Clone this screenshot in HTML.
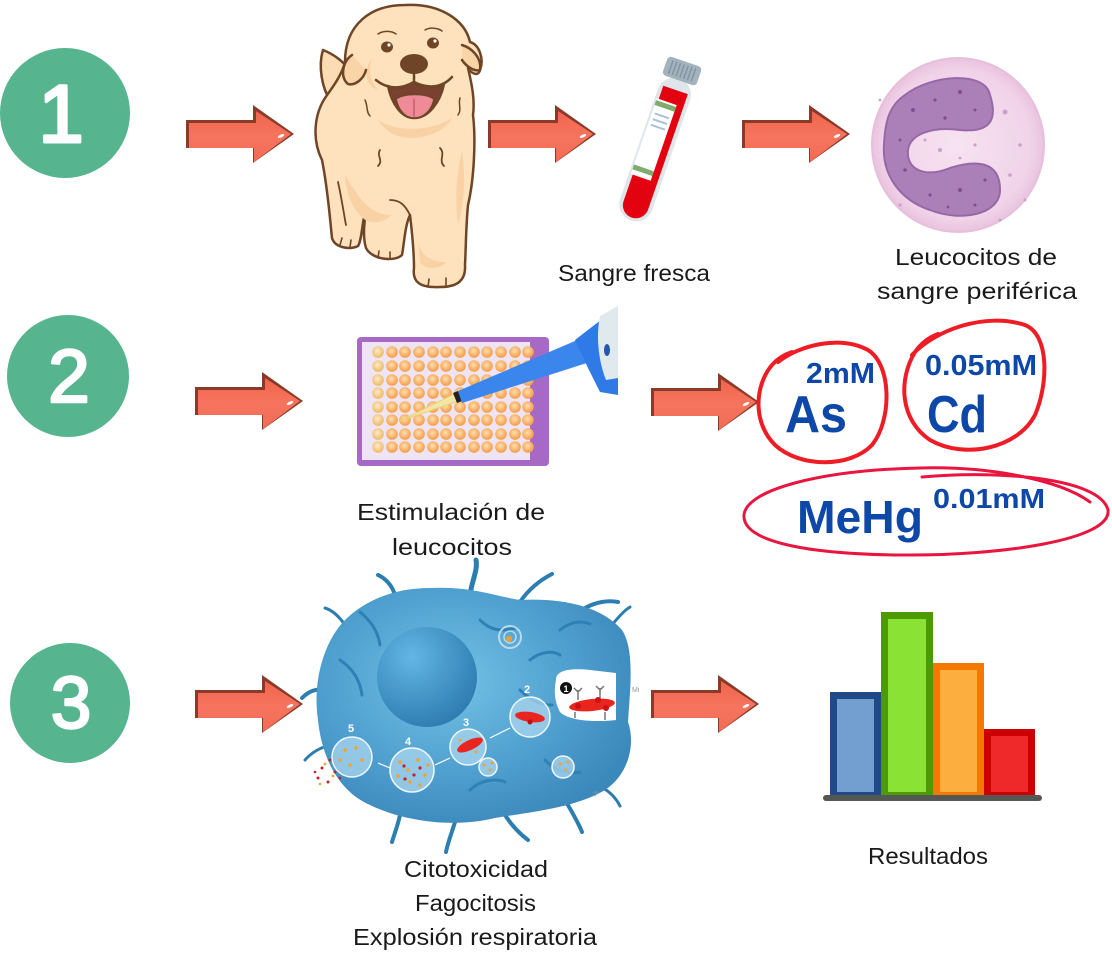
<!DOCTYPE html>
<html><head><meta charset="utf-8"><style>
html,body{margin:0;padding:0;background:#fff;}
svg{display:block;}
</style></head><body>
<svg width="1112" height="958" viewBox="0 0 1112 958" xmlns="http://www.w3.org/2000/svg">
<defs>
  <linearGradient id="arrG" x1="0" y1="0" x2="0" y2="1">
    <stop offset="0" stop-color="#f0644c"/>
    <stop offset="0.5" stop-color="#f6745e"/>
    <stop offset="1" stop-color="#f26b54"/>
  </linearGradient>
  <g id="arrow">
    <path d="M0,15 H67 V0 L108,29 L67,58 V43 H0 Z" fill="#8a3a28"/>
    <path d="M3,18 H70 V6 L105,29 L68,57 V43 H3 Z" fill="url(#arrG)"/>
    <ellipse cx="95" cy="31" rx="3.5" ry="1.4" fill="#fff" transform="rotate(-25 95 31)"/>
  </g>
  <radialGradient id="cellG" cx="0.42" cy="0.4" r="0.65">
    <stop offset="0" stop-color="#74c2e6"/>
    <stop offset="0.6" stop-color="#4f9fcf"/>
    <stop offset="1" stop-color="#3b88bb"/>
  </radialGradient>
  <radialGradient id="nucG" cx="0.35" cy="0.3" r="0.75">
    <stop offset="0" stop-color="#62b6e4"/>
    <stop offset="1" stop-color="#2e7bb0"/>
  </radialGradient>
  <radialGradient id="wellG" cx="0.45" cy="0.4" r="0.6">
    <stop offset="0" stop-color="#fde0b0"/>
    <stop offset="1" stop-color="#f59a45"/>
  </radialGradient>
  <radialGradient id="wellY" cx="0.45" cy="0.4" r="0.6">
    <stop offset="0" stop-color="#fdeacc"/>
    <stop offset="1" stop-color="#eeb860"/>
  </radialGradient>
  <radialGradient id="leukG" cx="0.5" cy="0.5" r="0.5">
    <stop offset="0" stop-color="#f6e3f1"/>
    <stop offset="0.85" stop-color="#f1d3e9"/>
    <stop offset="1" stop-color="#e9c3df"/>
  </radialGradient>
</defs>

<!-- Green numbered circles -->
<circle cx="65" cy="113" r="65" fill="#56b58e"/>
<text x="61" y="142" font-family="Liberation Sans, sans-serif" font-size="82" fill="#fff" stroke="#fff" stroke-width="3" stroke-linejoin="round" text-anchor="middle">1</text>
<circle cx="68" cy="376" r="61" fill="#56b58e"/>
<text x="69" y="402" font-family="Liberation Sans, sans-serif" font-size="75" fill="#fff" stroke="#fff" stroke-width="2.5" stroke-linejoin="round" text-anchor="middle">2</text>
<circle cx="70" cy="703" r="60" fill="#56b58e"/>
<text x="71" y="728" font-family="Liberation Sans, sans-serif" font-size="73" fill="#fff" stroke="#fff" stroke-width="2.5" stroke-linejoin="round" text-anchor="middle">3</text>

<!-- Arrows -->
<use href="#arrow" x="186" y="105"/>
<use href="#arrow" x="488" y="105"/>
<use href="#arrow" x="742" y="105"/>
<use href="#arrow" x="195" y="372"/>
<use href="#arrow" x="651" y="373"/>
<use href="#arrow" x="195" y="675"/>
<use href="#arrow" x="651" y="675"/>

<!-- Dog -->
<g stroke="#6e4527" stroke-width="2.5" stroke-linejoin="round" stroke-linecap="round">
  <path d="M330,100 C322,88 318,66 323,50 C333,54 346,62 352,75 C350,88 342,98 330,100 Z" fill="#fbdcb3"/>
  <path d="M345,62 C345,25 370,5 405,5 C440,3 465,20 470,42 C480,45 484,60 480,70 C478,78 470,72 468,68 C472,85 475,100 473,115 C476,140 474,180 468,205 C466,225 466,245 465,265 C466,280 458,287 440,287 C420,288 412,282 414,268 C414,250 412,232 410,215 C405,225 404,245 402,255 C395,262 372,260 366,248 C362,235 365,220 366,208 C362,222 362,240 358,246 C350,250 335,248 332,238 C330,220 328,190 322,160 C312,140 314,115 325,98 C332,88 342,75 345,62 Z" fill="#fde2bd"/>
</g>
<g fill="#f8d2a4">
  <path d="M378,120 C395,132 430,132 452,118 C448,128 430,138 412,138 C395,138 384,130 378,120 Z"/>
  <path d="M345,175 C360,200 370,215 392,215 C380,225 368,225 360,215 C350,205 346,190 345,175 Z"/>
  <path d="M462,150 C466,180 464,205 458,225 C455,200 456,175 462,150 Z"/>
  <path d="M418,240 C420,255 430,262 446,262 C440,270 425,270 420,262 Z"/>
  <path d="M372,58 C368,70 370,82 378,90 C366,86 362,72 372,58 Z"/>
</g>
<g stroke="#6e4527" stroke-width="2.5" stroke-linejoin="round" stroke-linecap="round">
  <path d="M352,55 C342,62 340,78 348,84 C356,86 364,78 366,70" fill="#f9d4a6"/>
  <path d="M462,45 C472,48 482,58 480,70 C474,72 466,66 462,60" fill="#f9d4a6"/>
  <path d="M380,150 C376,156 384,160 378,166" fill="none" stroke-width="1.8"/>
  <path d="M440,148 C446,154 438,160 444,166" fill="none" stroke-width="1.8"/>
  <path d="M338,182 C342,200 344,215 346,225" fill="none" stroke-width="1.8"/>
  <path d="M410,215 C405,205 400,200 390,200" fill="none" stroke-width="1.8"/>
  <path d="M340,245 L342,238 M350,247 L351,240" fill="none" stroke-width="1.6"/>
  <path d="M428,287 L429,279 M446,286 L446,278" fill="none" stroke-width="1.6"/>
  <path d="M378,258 L379,251 M390,259 L390,252" fill="none" stroke-width="1.6"/>
  <path d="M388,86 C392,105 402,118 414,118 C428,118 440,103 444,84 C432,90 420,88 414,82 C405,88 395,90 388,86 Z" fill="#7a4030"/>
  <path d="M396,99 C399,112 406,118 414,118 C424,118 432,110 434,99 C426,93 404,93 396,99 Z" fill="#ef8a97" stroke-width="1.5"/>
  <path d="M414,99 L414,116" fill="none" stroke="#c0606e" stroke-width="1.5"/>
  <path d="M376,80 C388,90 402,89 414,82 C428,89 442,88 452,77" fill="none"/>
  <path d="M414,72 L414,82" fill="none"/>
  <path d="M378,34 C384,30 392,31 396,34" fill="none" stroke-width="1.5"/>
  <path d="M425,30 C430,27 438,28 442,31" fill="none" stroke-width="1.5"/>
  <path d="M365,100 C368,106 366,112 370,116" fill="none" stroke-width="1.5"/>
  <path d="M460,98 C458,104 462,110 458,115" fill="none" stroke-width="1.5"/>
</g>
<ellipse cx="387" cy="47" rx="6" ry="5.5" fill="#6e4527"/>
<ellipse cx="433" cy="43" rx="6" ry="5.5" fill="#6e4527"/>
<circle cx="389" cy="45" r="1.6" fill="#fff"/>
<circle cx="435" cy="41" r="1.6" fill="#fff"/>
<ellipse cx="414" cy="64" rx="14" ry="10" fill="#6e4527"/>

<!-- Blood tube -->
<g transform="translate(658,141) rotate(19)">
  <rect x="-17" y="-66" width="34" height="150" rx="17" fill="#dfe6ea"/>
  <path d="M-13,-54 H13 V68 A13,13 0 0 1 -13,68 Z" fill="#e3020f"/>
  <rect x="-15" y="-40" width="21" height="80" fill="#fff"/>
  <rect x="-15" y="-38" width="21" height="5" fill="#7fab6d"/>
  <rect x="-15" y="30" width="21" height="5" fill="#7fab6d"/>
  <g stroke="#a8c4d8" stroke-width="2">
    <line x1="-12" y1="-25" x2="3" y2="-25"/>
    <line x1="-12" y1="-19" x2="3" y2="-19"/>
    <line x1="-12" y1="-13" x2="3" y2="-13"/>
  </g>
  <rect x="-18" y="-84" width="36" height="20" rx="4" fill="#a3b3be"/>
  <g stroke="#8494a1" stroke-width="1.5">
    <line x1="-12" y1="-81" x2="-12" y2="-67"/><line x1="-8" y1="-81" x2="-8" y2="-67"/>
    <line x1="-4" y1="-81" x2="-4" y2="-67"/><line x1="0" y1="-81" x2="0" y2="-67"/>
    <line x1="4" y1="-81" x2="4" y2="-67"/><line x1="8" y1="-81" x2="8" y2="-67"/>
    <line x1="12" y1="-81" x2="12" y2="-67"/>
  </g>
</g>

<!-- Leukocyte -->
<ellipse cx="958" cy="145" rx="86" ry="87" fill="url(#leukG)" stroke="#e6bfdb" stroke-width="2"/>
<path d="M905,95 C930,75 985,70 990,95 C998,120 990,133 960,130 C930,126 910,135 908,150 C906,170 925,178 950,168 C975,160 1000,160 1000,190 C1000,215 960,222 930,210 C900,200 882,175 884,145 C885,120 890,105 905,95 Z" fill="#ab80b9" stroke="#9768a6" stroke-width="2"/>
<g fill="#7d4f8e">
  <circle cx="913" cy="110" r="2"/><circle cx="935" cy="100" r="1.6"/><circle cx="960" cy="92" r="2"/>
  <circle cx="975" cy="110" r="1.5"/><circle cx="945" cy="118" r="1.7"/><circle cx="900" cy="140" r="1.5"/>
  <circle cx="905" cy="170" r="1.8"/><circle cx="930" cy="195" r="1.6"/><circle cx="960" cy="190" r="2"/>
  <circle cx="985" cy="180" r="1.6"/><circle cx="975" cy="205" r="1.5"/><circle cx="948" cy="207" r="1.4"/>
</g>
<g fill="#c9a0cf">
  <circle cx="1005" cy="112" r="2.5"/><circle cx="1020" cy="145" r="1.8"/><circle cx="940" cy="150" r="2"/>
  <circle cx="975" cy="145" r="1.6"/><circle cx="925" cy="140" r="1.5"/><circle cx="1010" cy="175" r="1.8"/>
  <circle cx="900" cy="205" r="1.6"/><circle cx="1000" cy="220" r="1.5"/><circle cx="960" cy="158" r="1.4"/>
  <circle cx="1025" cy="200" r="1.5"/><circle cx="880" cy="100" r="1.4"/>
</g>

<!-- Well plate -->
<rect x="357" y="337" width="192" height="129" rx="4" fill="#a669c6"/>
<rect x="362" y="342" width="168" height="118" fill="#efe4f3"/>
<g fill="url(#wellY)">
  <circle cx="378" cy="352" r="5.8"/><circle cx="378" cy="366" r="5.8"/><circle cx="378" cy="380" r="5.8"/><circle cx="378" cy="393" r="5.8"/>
  <circle cx="378" cy="407" r="5.8"/><circle cx="378" cy="420" r="5.8"/><circle cx="378" cy="434" r="5.8"/><circle cx="378" cy="447" r="5.8"/>
</g>
<g fill="url(#wellG)">
  <circle cx="392" cy="352" r="5.8"/><circle cx="405" cy="352" r="5.8"/><circle cx="419" cy="352" r="5.8"/><circle cx="433" cy="352" r="5.8"/><circle cx="446" cy="352" r="5.8"/><circle cx="460" cy="352" r="5.8"/><circle cx="474" cy="352" r="5.8"/><circle cx="487" cy="352" r="5.8"/><circle cx="501" cy="352" r="5.8"/><circle cx="515" cy="352" r="5.8"/><circle cx="528" cy="352" r="5.8"/>
  <circle cx="392" cy="366" r="5.8"/><circle cx="405" cy="366" r="5.8"/><circle cx="419" cy="366" r="5.8"/><circle cx="433" cy="366" r="5.8"/><circle cx="446" cy="366" r="5.8"/><circle cx="460" cy="366" r="5.8"/><circle cx="474" cy="366" r="5.8"/><circle cx="487" cy="366" r="5.8"/><circle cx="501" cy="366" r="5.8"/><circle cx="515" cy="366" r="5.8"/><circle cx="528" cy="366" r="5.8"/>
  <circle cx="392" cy="380" r="5.8"/><circle cx="405" cy="380" r="5.8"/><circle cx="419" cy="380" r="5.8"/><circle cx="433" cy="380" r="5.8"/><circle cx="446" cy="380" r="5.8"/><circle cx="460" cy="380" r="5.8"/><circle cx="474" cy="380" r="5.8"/><circle cx="487" cy="380" r="5.8"/><circle cx="501" cy="380" r="5.8"/><circle cx="515" cy="380" r="5.8"/><circle cx="528" cy="380" r="5.8"/>
  <circle cx="392" cy="393" r="5.8"/><circle cx="405" cy="393" r="5.8"/><circle cx="419" cy="393" r="5.8"/><circle cx="433" cy="393" r="5.8"/><circle cx="446" cy="393" r="5.8"/><circle cx="460" cy="393" r="5.8"/><circle cx="474" cy="393" r="5.8"/><circle cx="487" cy="393" r="5.8"/><circle cx="501" cy="393" r="5.8"/><circle cx="515" cy="393" r="5.8"/><circle cx="528" cy="393" r="5.8"/>
  <circle cx="392" cy="407" r="5.8"/><circle cx="405" cy="407" r="5.8"/><circle cx="419" cy="407" r="5.8"/><circle cx="433" cy="407" r="5.8"/><circle cx="446" cy="407" r="5.8"/><circle cx="460" cy="407" r="5.8"/><circle cx="474" cy="407" r="5.8"/><circle cx="487" cy="407" r="5.8"/><circle cx="501" cy="407" r="5.8"/><circle cx="515" cy="407" r="5.8"/><circle cx="528" cy="407" r="5.8"/>
  <circle cx="392" cy="420" r="5.8"/><circle cx="405" cy="420" r="5.8"/><circle cx="419" cy="420" r="5.8"/><circle cx="433" cy="420" r="5.8"/><circle cx="446" cy="420" r="5.8"/><circle cx="460" cy="420" r="5.8"/><circle cx="474" cy="420" r="5.8"/><circle cx="487" cy="420" r="5.8"/><circle cx="501" cy="420" r="5.8"/><circle cx="515" cy="420" r="5.8"/><circle cx="528" cy="420" r="5.8"/>
  <circle cx="392" cy="434" r="5.8"/><circle cx="405" cy="434" r="5.8"/><circle cx="419" cy="434" r="5.8"/><circle cx="433" cy="434" r="5.8"/><circle cx="446" cy="434" r="5.8"/><circle cx="460" cy="434" r="5.8"/><circle cx="474" cy="434" r="5.8"/><circle cx="487" cy="434" r="5.8"/><circle cx="501" cy="434" r="5.8"/><circle cx="515" cy="434" r="5.8"/><circle cx="528" cy="434" r="5.8"/>
  <circle cx="392" cy="447" r="5.8"/><circle cx="405" cy="447" r="5.8"/><circle cx="419" cy="447" r="5.8"/><circle cx="433" cy="447" r="5.8"/><circle cx="446" cy="447" r="5.8"/><circle cx="460" cy="447" r="5.8"/><circle cx="474" cy="447" r="5.8"/><circle cx="487" cy="447" r="5.8"/><circle cx="501" cy="447" r="5.8"/><circle cx="515" cy="447" r="5.8"/><circle cx="528" cy="447" r="5.8"/>
</g>
<!-- Pipette -->
<path d="M400,421 L454,394 L458,401 Z" fill="#f3e7a6" stroke="#e7d27a" stroke-width="1"/>
<path d="M453,393 L458,391 L462,401 L457,403 Z" fill="#222"/>
<path d="M458,391 L582,338 L590,362 L462,403 Z" fill="#3a86ec"/>
<path d="M575,340 L606,316 L618,307 L618,395 L600,392 L588,368 Z" fill="#2f7ae6"/>
<path d="M600,316 L618,306 L618,378 L606,380 C598,360 596,335 600,316 Z" fill="#dfe9ee"/>
<ellipse cx="607" cy="350" rx="3" ry="6" fill="#2456b0"/>

<!-- Chemical labels -->
<g font-family="Liberation Sans, Arial, sans-serif" font-weight="bold" fill="#0d47a8">
  <text x="806" y="383" font-size="29" textLength="69" lengthAdjust="spacingAndGlyphs">2mM</text>
  <text x="785" y="432" font-size="52" textLength="62" lengthAdjust="spacingAndGlyphs">As</text>
  <text x="925" y="375" font-size="29" textLength="112" lengthAdjust="spacingAndGlyphs">0.05mM</text>
  <text x="927" y="432" font-size="52" textLength="60" lengthAdjust="spacingAndGlyphs">Cd</text>
  <text x="797" y="533" font-size="46" textLength="126" lengthAdjust="spacingAndGlyphs">MeHg</text>
  <text x="933" y="508" font-size="28" textLength="112" lengthAdjust="spacingAndGlyphs">0.01mM</text>
</g>
<g fill="none" stroke-linecap="round">
  <path d="M778,362 C800,345 840,335 868,350 C892,365 892,420 872,445 C850,468 800,468 775,445 C752,422 755,385 772,365 C778,358 786,354 792,352" stroke="#ee1c25" stroke-width="4"/>
  <path d="M912,355 C935,330 985,312 1025,325 C1050,335 1048,385 1035,415 C1018,448 965,460 930,440 C900,420 898,380 915,352 C922,342 930,337 938,334" stroke="#ee1c25" stroke-width="4"/>
  <path d="M922,477 C1000,470 1100,478 1108,510 C1112,540 1000,556 900,555 C800,554 742,540 744,515 C746,490 820,470 920,468 C990,466 1060,480 1090,502" stroke="#e8163f" stroke-width="3"/>
</g>

<!-- Macrophage -->
<g stroke="#2c7db0" stroke-linecap="round" fill="none">
  <path d="M470,595 C472,580 478,570 476,560" stroke-width="5"/>
  <path d="M395,595 C392,585 385,578 378,575" stroke-width="4"/>
  <path d="M520,602 C528,590 540,580 552,574" stroke-width="4"/>
  <path d="M585,608 C596,602 608,600 618,602" stroke-width="4"/>
  <path d="M612,625 C620,615 625,610 630,607" stroke-width="3"/>
  <path d="M325,690 C315,688 308,692 302,698" stroke-width="4"/>
  <path d="M330,745 C320,748 312,752 305,760" stroke-width="3"/>
  <path d="M400,815 C398,825 394,835 392,842" stroke-width="4"/>
  <path d="M455,822 C452,832 448,842 446,852" stroke-width="4"/>
  <path d="M505,815 C512,826 520,834 528,840" stroke-width="4"/>
  <path d="M565,800 C572,812 578,822 582,832" stroke-width="4"/>
  <path d="M603,788 C610,792 616,798 620,806" stroke-width="3"/>
  <path d="M345,625 C338,615 332,610 325,608" stroke-width="3"/>
</g>
<path d="M318,720 C312,680 325,640 345,620 C365,600 395,588 430,588 C470,586 495,596 520,600 C560,598 600,605 622,630 C635,650 630,690 628,722 C636,745 628,775 605,790 C575,808 530,812 495,818 C455,828 405,822 370,805 C340,792 322,760 318,720 Z" fill="url(#cellG)"/>
<g stroke="#2f80b4" stroke-linecap="round" fill="none" stroke-width="3">
  <path d="M360,612 C372,622 378,632 380,645"/>
  <path d="M480,620 C490,630 500,632 515,628"/>
  <path d="M530,660 C540,652 552,650 560,655"/>
  <path d="M340,660 C352,668 360,680 362,695"/>
  <path d="M560,630 C570,622 580,620 590,624"/>
  <path d="M470,790 C480,780 495,778 505,782"/>
  <path d="M545,760 C555,770 565,775 580,772"/>
  <path d="M520,690 C530,700 540,705 552,705"/>
</g>
<circle cx="427" cy="677" r="50" fill="url(#nucG)"/>
<circle cx="510" cy="637" r="11" fill="none" stroke="#cfe7f3" stroke-width="2" opacity="0.8"/>
<circle cx="510" cy="637" r="6" fill="none" stroke="#cfe7f3" stroke-width="1.5" opacity="0.8"/>
<circle cx="509" cy="639" r="3" fill="#f0a030"/>
<path d="M556,680 C556,670 570,668 590,670 L616,673 L616,720 C600,722 570,722 560,712 C554,700 554,690 556,680 Z" fill="#fff"/>
<circle cx="566" cy="688" r="6" fill="#111"/>
<text x="566" y="692" font-family="Liberation Sans, sans-serif" font-weight="bold" font-size="9" fill="#fff" text-anchor="middle">1</text>
<g stroke="#777" stroke-width="1.5" fill="none">
  <path d="M578,690 L578,700 M574,688 L578,692 L582,688"/>
  <path d="M600,688 L600,700 M596,686 L600,690 L604,686"/>
  <path d="M575,712 L575,718 M605,712 L605,720"/>
</g>
<ellipse cx="592" cy="705" rx="23" ry="6" fill="#e8251f" transform="rotate(-6 592 705)"/>
<circle cx="578" cy="706" r="3" fill="#d01010"/><circle cx="598" cy="700" r="3" fill="#d01010"/><circle cx="606" cy="708" r="3" fill="#d01010"/>
<g stroke="#eef7fc" stroke-width="1.5">
  <circle cx="530" cy="717" r="20" fill="#a9d6ee" fill-opacity="0.75"/>
  <circle cx="468" cy="747" r="18" fill="#a9d6ee" fill-opacity="0.75"/>
  <circle cx="412" cy="770" r="22" fill="#a9d6ee" fill-opacity="0.75"/>
  <circle cx="352" cy="757" r="20" fill="#a9d6ee" fill-opacity="0.75"/>
  <circle cx="488" cy="767" r="9" fill="#a9d6ee" fill-opacity="0.75"/>
  <circle cx="563" cy="767" r="11" fill="#a9d6ee" fill-opacity="0.75"/>
</g>
<ellipse cx="530" cy="717" rx="15" ry="5" fill="#e8251f" transform="rotate(8 530 717)"/>
<circle cx="530" cy="722" r="2.5" fill="#c01010"/>
<ellipse cx="470" cy="745" rx="14" ry="5" fill="#e8251f" transform="rotate(-25 470 745)"/>
<g fill="#f0a330">
  <circle cx="400" cy="762" r="1.8"/><circle cx="408" cy="770" r="1.8"/><circle cx="418" cy="760" r="1.8"/><circle cx="425" cy="775" r="1.8"/><circle cx="410" cy="782" r="1.8"/><circle cx="398" cy="776" r="1.8"/><circle cx="420" cy="785" r="1.6"/><circle cx="428" cy="765" r="1.6"/>
  <circle cx="345" cy="750" r="1.8"/><circle cx="356" cy="748" r="1.8"/><circle cx="362" cy="760" r="1.8"/><circle cx="350" cy="765" r="1.8"/><circle cx="340" cy="760" r="1.6"/>
  <circle cx="484" cy="765" r="1.5"/><circle cx="490" cy="770" r="1.5"/><circle cx="492" cy="763" r="1.5"/>
  <circle cx="560" cy="764" r="1.5"/><circle cx="566" cy="770" r="1.5"/><circle cx="568" cy="762" r="1.5"/>
  <circle cx="460" cy="740" r="1.5"/><circle cx="476" cy="752" r="1.5"/>
</g>
<g fill="#c8202a">
  <circle cx="404" cy="766" r="1.6"/><circle cx="414" cy="775" r="1.6"/><circle cx="420" cy="768" r="1.6"/><circle cx="405" cy="779" r="1.6"/>
  <circle cx="330" cy="760" r="1.5"/><circle cx="322" cy="768" r="1.5"/><circle cx="335" cy="772" r="1.5"/><circle cx="318" cy="778" r="1.5"/><circle cx="328" cy="782" r="1.5"/>
  <circle cx="340" cy="778" r="1.4"/><circle cx="315" cy="772" r="1.3"/>
</g>
<g fill="#f0a330">
  <circle cx="325" cy="764" r="1.4"/><circle cx="333" cy="776" r="1.4"/><circle cx="320" cy="784" r="1.3"/>
</g>
<g font-family="Liberation Sans, sans-serif" font-weight="bold" font-size="11" fill="#fff" text-anchor="middle">
  <text x="527" y="693">2</text><text x="466" y="726">3</text><text x="408" y="745">4</text><text x="351" y="732">5</text>
</g>
<g stroke="#fff" stroke-width="1.2" fill="none">
  <path d="M510,728 L490,738"/><path d="M450,758 L435,765"/><path d="M390,768 L378,763"/>
</g>
<text x="632" y="692" font-family="Liberation Sans, sans-serif" font-size="7" fill="#999">Mi</text>
<text x="592" y="795" font-family="Liberation Sans, sans-serif" font-size="7" fill="#999">-y-</text>

<!-- Bar chart -->
<rect x="833.5" y="695.5" width="44" height="100" fill="#729fcf" stroke="#204a87" stroke-width="7"/>
<rect x="884.5" y="615.5" width="45" height="180" fill="#8ae234" stroke="#4e9a06" stroke-width="7"/>
<rect x="936.5" y="666.5" width="44" height="129" fill="#fcaf3e" stroke="#f57900" stroke-width="7"/>
<rect x="987.5" y="732.5" width="44" height="63" fill="#ef2929" stroke="#cc0000" stroke-width="7"/>
<line x1="826" y1="798" x2="1039" y2="798" stroke="#555753" stroke-width="6" stroke-linecap="round"/>

<!-- Labels -->
<g font-family="Liberation Sans, Arial, sans-serif" font-size="23" fill="#1a1a1a">
  <text x="558" y="281" textLength="152" lengthAdjust="spacingAndGlyphs">Sangre fresca</text>
  <text x="895" y="265" textLength="162" lengthAdjust="spacingAndGlyphs">Leucocitos de</text>
  <text x="877" y="299" textLength="200" lengthAdjust="spacingAndGlyphs">sangre periférica</text>
  <text x="357" y="520" textLength="188" lengthAdjust="spacingAndGlyphs">Estimulación de</text>
  <text x="392" y="555" textLength="120" lengthAdjust="spacingAndGlyphs">leucocitos</text>
  <text x="404" y="877" textLength="144" lengthAdjust="spacingAndGlyphs">Citotoxicidad</text>
  <text x="415" y="911" textLength="121" lengthAdjust="spacingAndGlyphs">Fagocitosis</text>
  <text x="353" y="945" textLength="244" lengthAdjust="spacingAndGlyphs">Explosión respiratoria</text>
  <text x="868" y="864" textLength="120" lengthAdjust="spacingAndGlyphs">Resultados</text>
</g>
</svg>
</body></html>
